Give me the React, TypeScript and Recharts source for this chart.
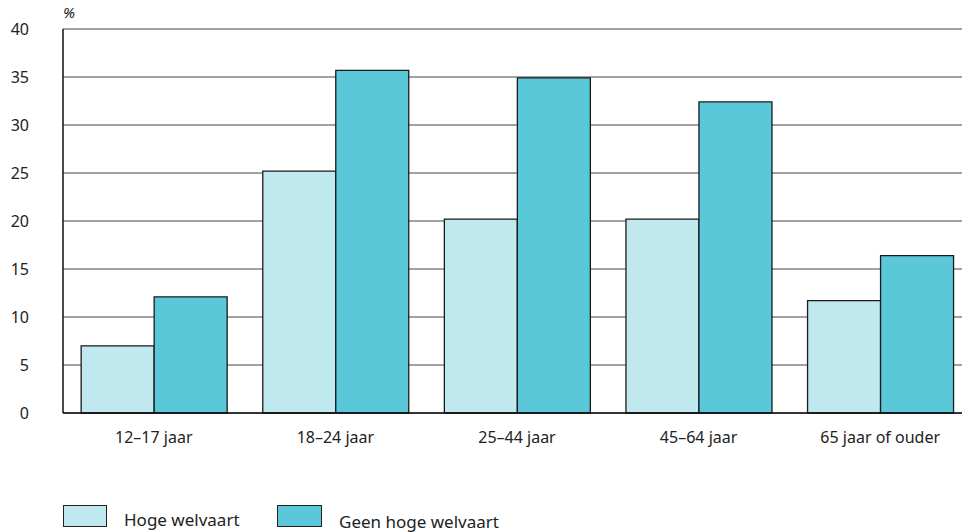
import React from 'react';
import { BarChart, Bar, XAxis, YAxis, CartesianGrid, Legend } from 'recharts';

// Data
const categories = ['12–17 jaar', '18–24 jaar', '25–44 jaar', '45–64 jaar', '65 jaar of ouder'];
const hogeWelvaart = [7.0, 25.2, 20.2, 20.2, 11.7];
const geenHogeWelvaart = [12.1, 35.7, 34.9, 32.4, 16.4];
const yTicks = [0, 5, 10, 15, 20, 25, 30, 35, 40];

const LIGHT = '#c0e9ef';
const DARK = '#5ac8d8';
const FONT = '"Noto Sans", "Open Sans", sans-serif';

const data = categories.map((name, i) => ({
  name,
  hoge: hogeWelvaart[i],
  geen: geenHogeWelvaart[i],
}));

const renderLegend = () => (
  <div style={{ position: 'relative', height: 30, fontFamily: FONT, fontSize: 17, color: '#222' }}>
    <div style={{ position: 'absolute', left: 63, top: 0, width: 44, height: 22, background: LIGHT, border: '1px solid #222', boxSizing: 'border-box' }} />
    <span style={{ position: 'absolute', left: 124, top: 3, whiteSpace: 'nowrap' }}>Hoge welvaart</span>
    <div style={{ position: 'absolute', left: 277, top: 0, width: 45, height: 22, background: DARK, border: '1px solid #222', boxSizing: 'border-box' }} />
    <span style={{ position: 'absolute', left: 339, top: 5, whiteSpace: 'nowrap' }}>Geen hoge welvaart</span>
  </div>
);

export default function App() {
  return (
    <div style={{ position: 'absolute', left: 0, top: 0, width: 962, height: 532, overflow: 'hidden', background: '#fff' }}>
      <BarChart
        width={971}
        height={532}
        data={data}
        margin={{ top: 29, right: 0, left: 0, bottom: 0 }}
        barCategoryGap="10%"
        barGap={0}
      >
        <CartesianGrid vertical={false} stroke="#444" strokeWidth={1} />
        <XAxis
          dataKey="name"
          axisLine={{ stroke: '#111', strokeWidth: 1.5 }}
          tickLine={false}
          tickSize={0}
          tickMargin={19}
          height={89}
          interval={0}
          tick={{ fill: '#222', fontSize: 16, fontFamily: FONT }}
        />
        <YAxis
          domain={[0, 40]}
          ticks={yTicks}
          width={63}
          axisLine={{ stroke: '#111', strokeWidth: 1.5 }}
          tickLine={false}
          tickSize={0}
          tickMargin={34}
          tick={{ fill: '#222', fontSize: 16, fontFamily: FONT }}
          label={{ value: '%', position: 'insideTopLeft', offset: 0, dx: 63, dy: -22, fill: '#222', fontSize: 15, fontFamily: FONT, fontStyle: 'italic' }}
        />
        <Legend
          verticalAlign="bottom"
          align="left"
          content={renderLegend}
          wrapperStyle={{ left: 0, bottom: -3, width: 962 }}
        />
        <Bar dataKey="hoge" name="Hoge welvaart" fill={LIGHT} stroke="#1a1a1a" strokeWidth={1.3} isAnimationActive={false} />
        <Bar dataKey="geen" name="Geen hoge welvaart" fill={DARK} stroke="#1a1a1a" strokeWidth={1.3} isAnimationActive={false} />
      </BarChart>
    </div>
  );
}
